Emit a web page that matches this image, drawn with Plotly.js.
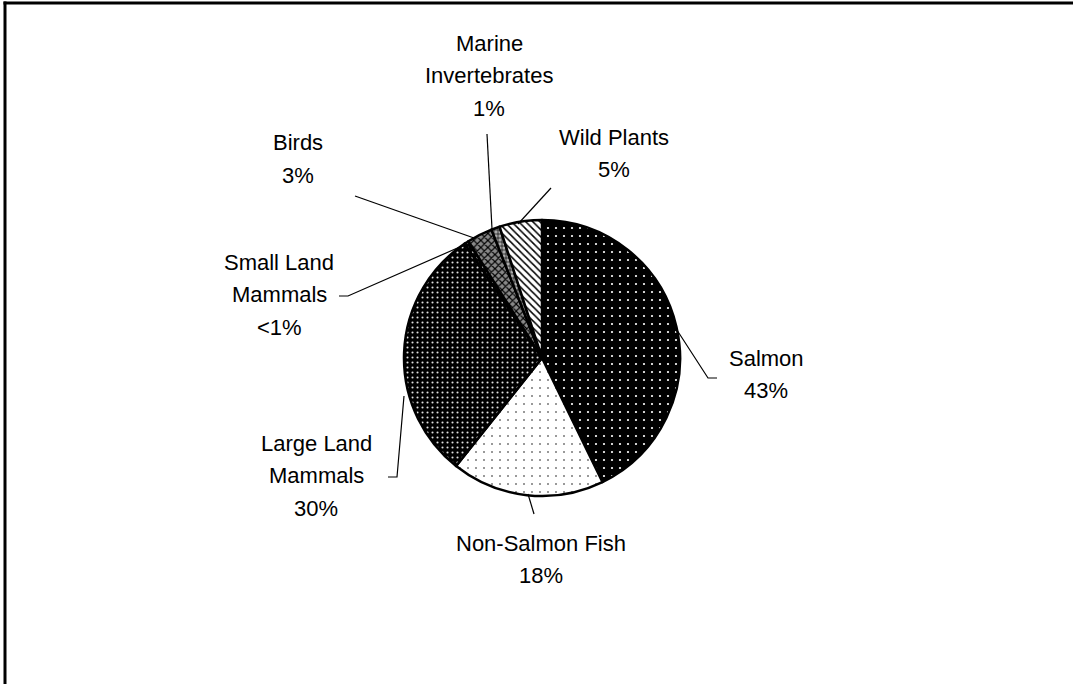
<!DOCTYPE html>
<html>
<head>
<meta charset="utf-8">
<script src="https://cdn.plot.ly/plotly-3.0.1.min.js"></script>
<style>html,body{margin:0;padding:0;background:#fff;}#chart{width:1073px;height:684px;}</style>
</head>
<body>
<div id="chart"></div>
<script>
// ---- data ----
const categories = ['Salmon','Non-Salmon Fish','Large Land Mammals','Small Land Mammals','Birds','Marine Invertebrates','Wild Plants'];
const values = [43, 18, 30, 0.5, 3, 1, 5];
const pctLabels = ['43%','18%','30%','<1%','3%','1%','5%'];
const labelLines = [['Salmon'],['Non-Salmon Fish'],['Large Land','Mammals'],['Small Land','Mammals'],['Birds'],['Marine','Invertebrates'],['Wild Plants']];

// ---- styling / layout helpers ----
const W = 1073, H = 684;
const px = x => x / W;
const py = y => 1 - y / H;
const cx = 542, cy = 358, R = 138;

const patShapes = ['.', '.', '.', '.', 'x', '+', '\\'];
const patBg = ['#000000', '#ffffff', '#000000', '#000000', '#888888', '#aaaaaa', '#ffffff'];
const patFg = ['#ffffff', '#777777', '#e0e0e0', '#e0e0e0', '#000000', '#000000', '#000000'];
const patSize = [8, 8, 5, 5, 5, 4, 5];
const patSolid = [0.06, 0.05, 0.14, 0.14, 0.4, 0.3, 0.3];

// label block positions (first line centre, pixels) and leader paths
const labelPos = [[766,358],[541,543],[316,443],[279,262],[298,143],[489,43],[614,137]];
const leaders = [
  [[675,327],[708,378],[717,378]],
  [[528,494],[534,514]],
  [[388,477],[397,477],[404,396]],
  [[339,296],[348,296],[462,246]],
  [[355,196],[474,238]],
  [[487,134],[492,229]],
  [[551,188],[518,224]]
];
const lineGap = 32.5;

const annotations = [];
categories.forEach((c, i) => {
  const lines = labelLines[i].concat([pctLabels[i]]);
  lines.forEach((t, k) => {
    annotations.push({
      text: t, showarrow: false, xref: 'paper', yref: 'paper',
      x: px(labelPos[i][0]), y: py(labelPos[i][1] + k * lineGap),
      xanchor: 'center', yanchor: 'middle',
      font: {family: 'Liberation Sans, Arial, sans-serif', size: 22, color: '#000'}
    });
  });
});

const shapes = leaders.map(pts => ({
  type: 'path', xref: 'paper', yref: 'paper',
  path: pts.map((p, j) => (j ? 'L' : 'M') + px(p[0]) + ',' + py(p[1])).join(' '),
  line: {color: '#000', width: 1.2}
}));
// frame: top and left edges
shapes.push({type: 'line', xref: 'paper', yref: 'paper', x0: px(3.5), x1: 1, y0: py(3), y1: py(3), line: {color: '#000', width: 3}});
shapes.push({type: 'line', xref: 'paper', yref: 'paper', x0: px(5), x1: px(5), y0: py(1.5), y1: 0, line: {color: '#000', width: 3}});

const trace = {
  type: 'pie',
  labels: categories,
  values: values,
  sort: false,
  direction: 'clockwise',
  rotation: 0,
  textinfo: 'none',
  hoverinfo: 'label+percent',
  showlegend: false,
  domain: {x: [px(cx - R), px(cx + R)], y: [py(cy + R), py(cy - R)]},
  marker: {
    colors: patBg,
    line: {color: '#000', width: 2.5},
    pattern: {shape: patShapes, bgcolor: patBg, fgcolor: patFg, size: patSize, solidity: patSolid, fillmode: 'replace'}
  }
};

Plotly.newPlot('chart', [trace], {
  width: W, height: H,
  margin: {l: 0, r: 0, t: 0, b: 0},
  paper_bgcolor: '#fff',
  annotations: annotations,
  shapes: shapes
}, {staticPlot: true});
</script>
</body>
</html>
